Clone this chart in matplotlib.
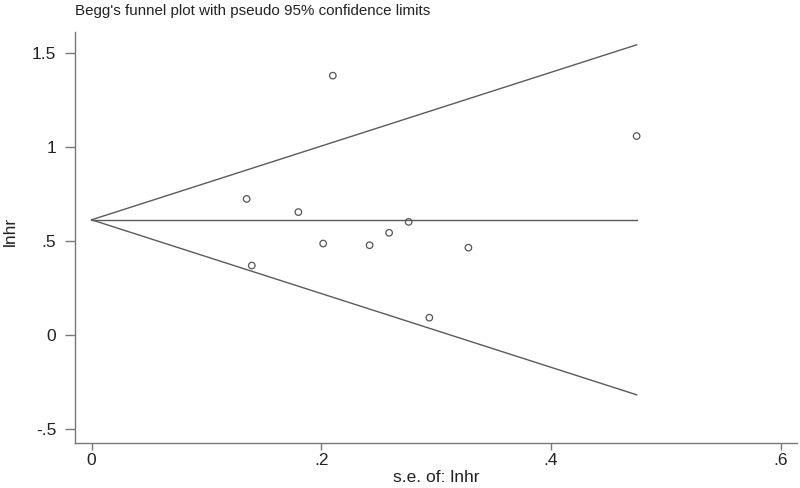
import matplotlib
matplotlib.use("Agg")
import matplotlib.pyplot as plt
import numpy as np

plt.rcParams['font.family'] = ['Liberation Sans', 'DejaVu Sans']

# Data
se = [0.210, 0.135, 0.180, 0.276, 0.259, 0.2016, 0.242, 0.1395, 0.4744, 0.328, 0.294]
lnhr = [1.378, 0.723, 0.653, 0.601, 0.543, 0.486, 0.477, 0.369, 1.057, 0.464, 0.092]
pooled = 0.612
xticks = [0, 0.2, 0.4, 0.6]
xticklabels = ["0", ".2", ".4", ".6"]
yticks = [-0.5, 0, 0.5, 1, 1.5]
yticklabels = ["-.5", "0", ".5", "1", "1.5"]

W, H = 800, 488
fig = plt.figure(figsize=(W / 100, H / 100), dpi=100)
ax = fig.add_axes([75 / W, 1 - 443 / H, (797 - 75) / W, (443 - 32) / H])

line_col = '#5a5a5a'
smax = max(se)
s_line = np.array([0, smax])
ax.plot(s_line, [pooled, pooled], color=line_col, lw=1.0)
ax.plot(s_line, pooled + 1.96 * s_line, color=line_col, lw=1.0)
ax.plot(s_line, pooled - 1.96 * s_line, color=line_col, lw=1.0)
ax.scatter(se, lnhr, s=22, facecolors='none', edgecolors='#555555', linewidths=0.9, zorder=3)

ax.set_xlim(-0.0144, 0.614)
ax.set_ylim(-0.574, 1.61)
ax.set_xticks(xticks)
ax.set_xticklabels(xticklabels)
ax.set_yticks(yticks)
ax.set_yticklabels(yticklabels)

for s in ['top', 'right']:
    ax.spines[s].set_visible(False)
for s in ['left', 'bottom']:
    ax.spines[s].set_color('#777777')
    ax.spines[s].set_linewidth(1.0)
ax.tick_params(axis='both', direction='out', width=1.0, color='#777777',
               labelsize=12.5, labelcolor='#222222')
ax.tick_params(axis='y', length=7, pad=6.5)
ax.tick_params(axis='x', length=5, pad=2.5)

fig.text(75 / W, 1 - 11 / H, "Begg's funnel plot with pseudo 95% confidence limits",
         ha='left', va='center', fontsize=10.9, color='#222222')
fig.text(10 / W, 1 - 231 / H, "lnhr", rotation=90, ha='center', va='center',
         fontsize=12.5, color='#222222')
fig.text(436 / W, 1 - 477 / H, "s.e. of: lnhr", ha='center', va='center',
         fontsize=12.5, color='#222222')

fig.savefig("out.png", dpi=100)
